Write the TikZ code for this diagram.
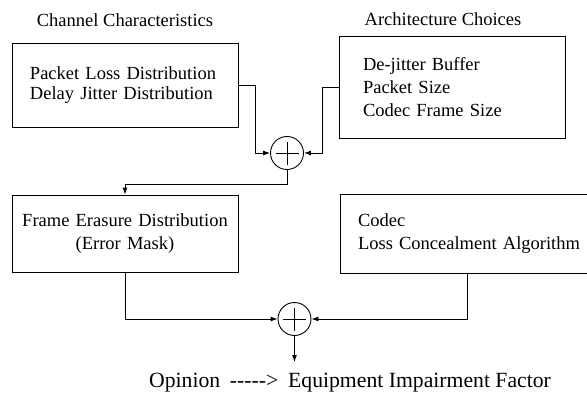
\documentclass[tikz,border=0pt]{standalone}
\usepackage{fontspec}
\setmainfont{Liberation Serif}
\usetikzlibrary{arrows.meta}
% five hyphens without the en/em dash ligatures
\newcommand{\dashrun}{-\kern0pt-\kern0pt-\kern0pt-\kern0pt-}

\begin{document}
\begin{tikzpicture}[x=1pt, y=1pt, line width=0.9pt,
  every node/.style={font=\fontsize{18.5}{23}\selectfont},
  box/.style={draw, minimum width=226pt, align=left, inner xsep=18pt},
  sum/.style={draw, circle, minimum size=33pt, inner sep=0pt, path picture={
      \draw ([yshift=-5pt]path picture bounding box.north) -- ([yshift=5pt]path picture bounding box.south)
            ([xshift=5pt]path picture bounding box.west) -- ([xshift=-5pt]path picture bounding box.east);}},
  link/.style={-{Latex[length=7pt,width=5pt]}}]
\useasboundingbox (0,0) rectangle (587,400);

% headings
\node (chan) at (125,380) {Channel Characteristics};
\node (arch) at (443,381) {Architecture Choices};

% blocks
\node[box, minimum height=84pt, text width=190pt, font=\fontsize{18.5}{20}\selectfont] (loss) at (125,315)
  {Packet Loss Distribution\\Delay Jitter Distribution};
\node[box, minimum height=102pt, text width=178pt, inner xsep=24pt] (buf) at (452,313)
  {De-jitter Buffer\\Packet Size\\Codec Frame Size};
\node[box, minimum height=77pt, text width=210pt, inner xsep=8pt, align=center] (mask) at (125,166.5)
  {Frame Erasure Distribution\\(Error Mask)};
\node[box, minimum width=270pt, minimum height=79pt, text width=234pt] (codec) at (475,166.5)
  {Codec\\Loss Concealment Algorithm};

% summing points
\node[sum] (s1) at (287,247) {};
\node[sum] (s2) at (294.5,81) {};
\coordinate (tail) at (294.5,38);

\node[font=\fontsize{21.7}{26}\selectfont] (op) at (350,17)
  {Opinion\hspace{0.45em}\dashrun>\hspace{0.45em}Equipment Impairment Factor};

% connections
\draw[link] (loss.east) -- ++(17,0) |- (s1.west);
\draw[link] (buf.west) -- ++(-16,0) |- (s1.east);
\draw[link] (s1.south) -- ++(0,-14) -| (mask.north);
\draw[link] (mask.south) |- (s2.west);
\draw[link] ([xshift=-8pt]codec.south) |- (s2.east);
\draw[link] (s2.south) -- (tail);
\end{tikzpicture}
\end{document}
